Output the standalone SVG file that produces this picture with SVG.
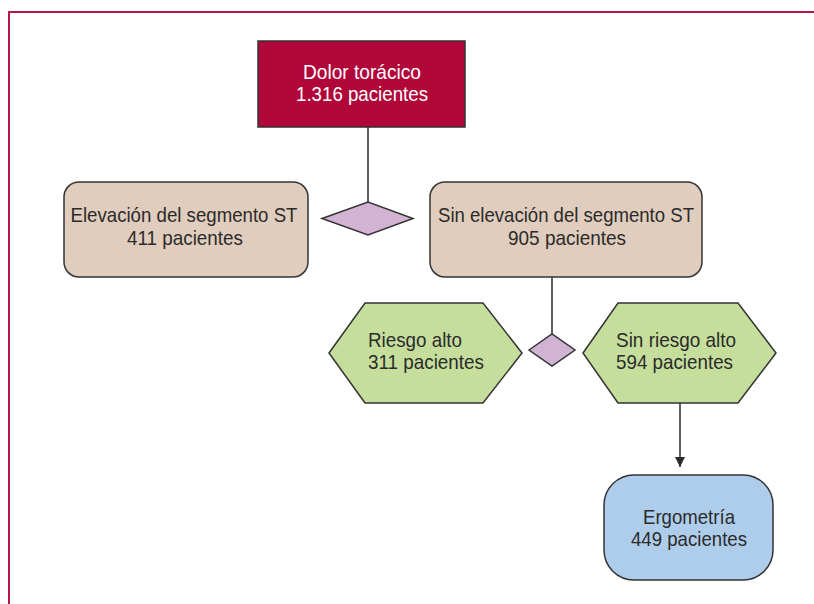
<svg xmlns="http://www.w3.org/2000/svg" width="814" height="604" viewBox="0 0 814 604">
<style>
text{font-family:"Liberation Sans Narrow","Liberation Sans",Arial,sans-serif;font-size:21px;fill:#2b2b2b}
.c{text-anchor:middle}
.w{fill:#ffffff}
.ln{stroke:#2b2b2b;stroke-width:1.5;fill:none}
.nd{stroke:#333333;stroke-width:1.5}
</style>
<defs>
<marker id="ah" viewBox="0 0 10 10" refX="10" refY="5" markerWidth="11" markerHeight="10" markerUnits="userSpaceOnUse" orient="auto">
<path d="M0,0 L10,5 L0,10 Z" fill="#2b2b2b"/>
</marker>
</defs>
<rect width="814" height="604" fill="#ffffff"/>
<path d="M9,604 L9,12 L814,12" fill="none" stroke="#b8164a" stroke-width="2"/>
<g id="connectors">
<line class="ln" x1="368" y1="127" x2="368" y2="202"/>
<line class="ln" x1="552" y1="277" x2="552" y2="334"/>
<line class="ln" x1="680" y1="403" x2="680" y2="467" marker-end="url(#ah)"/>
</g>
<g id="n-dolor">
<rect class="nd" x="258" y="41" width="207" height="86" fill="#b0063a"/>
<text class="c w" x="362" y="79" textLength="118" lengthAdjust="spacingAndGlyphs">Dolor torácico</text>
<text class="c w" x="362" y="101" textLength="132" lengthAdjust="spacingAndGlyphs">1.316 pacientes</text>
</g>
<g id="d-1">
<polygon class="nd" points="322,218.5 368,202 413,218.5 368,235" fill="#d2b3d4" stroke-width="1.2"/>
</g>
<g id="n-elev">
<rect class="nd" x="64" y="182" width="244" height="95" rx="15" fill="#e0cdbd"/>
<text class="c" x="184" y="222" textLength="227" lengthAdjust="spacingAndGlyphs">Elevación del segmento ST</text>
<text class="c" x="185" y="245" textLength="116" lengthAdjust="spacingAndGlyphs">411 pacientes</text>
</g>
<g id="n-sinelev">
<rect class="nd" x="430" y="182" width="272" height="95" rx="15" fill="#e0cdbd"/>
<text class="c" x="566" y="222" textLength="256" lengthAdjust="spacingAndGlyphs">Sin elevación del segmento ST</text>
<text class="c" x="567" y="245" textLength="118" lengthAdjust="spacingAndGlyphs">905 pacientes</text>
</g>
<g id="d-2">
<polygon class="nd" points="529,350 552,334 575,350 552,366" fill="#d2b3d4" stroke-width="1.2"/>
</g>
<g id="n-riesgo">
<polygon class="nd" points="329,353 365,303 483,303 522,353 483,403 365,403" fill="#c5de9c"/>
<text x="368" y="347" textLength="94" lengthAdjust="spacingAndGlyphs">Riesgo alto</text>
<text x="368" y="369" textLength="116" lengthAdjust="spacingAndGlyphs">311 pacientes</text>
</g>
<g id="n-sinriesgo">
<polygon class="nd" points="583,353 618,303 738,303 776,353 738,403 618,403" fill="#c5de9c"/>
<text x="616" y="347" textLength="120" lengthAdjust="spacingAndGlyphs">Sin riesgo alto</text>
<text x="616" y="369" textLength="117" lengthAdjust="spacingAndGlyphs">594 pacientes</text>
</g>
<g id="n-ergo">
<rect class="nd" x="604" y="475" width="169" height="105" rx="30" fill="#aecdea"/>
<text class="c" x="689" y="524" textLength="92" lengthAdjust="spacingAndGlyphs">Ergometría</text>
<text class="c" x="689" y="546" textLength="116" lengthAdjust="spacingAndGlyphs">449 pacientes</text>
</g>
</svg>
